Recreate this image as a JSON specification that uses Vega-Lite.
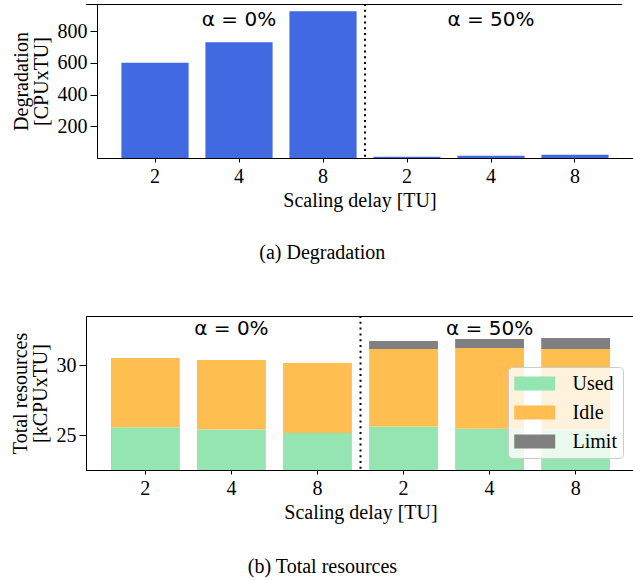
{
  "$schema": "https://vega.github.io/schema/vega-lite/v6.json",
  "padding": {"left": 9, "top": 3, "right": 0, "bottom": 0},
  "spacing": 51,
  "resolve": {"legend": {"color": "independent"}},
  "datasets": {
    "deg": [
      {"pos": "a2", "deg": 600},
      {"pos": "a4", "deg": 730},
      {"pos": "a8", "deg": 925},
      {"pos": "b2", "deg": 8},
      {"pos": "b4", "deg": 14},
      {"pos": "b8", "deg": 20}
    ],
    "res": [
      {"pos": "a2", "kind": "Used", "ord": 1, "value": 25.55},
      {"pos": "a2", "kind": "Idle", "ord": 2, "value": 4.95},
      {"pos": "a4", "kind": "Used", "ord": 1, "value": 25.4},
      {"pos": "a4", "kind": "Idle", "ord": 2, "value": 4.96},
      {"pos": "a8", "kind": "Used", "ord": 1, "value": 25.15},
      {"pos": "a8", "kind": "Idle", "ord": 2, "value": 5.0},
      {"pos": "b2", "kind": "Used", "ord": 1, "value": 25.6},
      {"pos": "b2", "kind": "Idle", "ord": 2, "value": 5.55},
      {"pos": "b2", "kind": "Limit", "ord": 3, "value": 0.57},
      {"pos": "b4", "kind": "Used", "ord": 1, "value": 25.45},
      {"pos": "b4", "kind": "Idle", "ord": 2, "value": 5.77},
      {"pos": "b4", "kind": "Limit", "ord": 3, "value": 0.63},
      {"pos": "b8", "kind": "Used", "ord": 1, "value": 25.4},
      {"pos": "b8", "kind": "Idle", "ord": 2, "value": 5.75},
      {"pos": "b8", "kind": "Limit", "ord": 3, "value": 0.77}
    ],
    "annTop": [
      {"pos": "a4", "deg": 870, "label": "α = 0%"},
      {"pos": "b4", "deg": 870, "label": "α = 50%"}
    ],
    "annBot": [
      {"pos": "a4", "value": 32.6, "label": "α = 0%"},
      {"pos": "b4", "value": 32.6, "label": "α = 50%"}
    ],
    "split": [{"pos": "a8"}],
    "topEdge": [{"deg": 971}]
  },
  "config": {
    "view": {"stroke": "#000", "strokeWidth": 1},
    "font": "Liberation Serif",
    "axis": {
      "domainColor": "#000", "tickColor": "#000", "labelColor": "#000", "titleColor": "#000",
      "labelFont": "Liberation Serif", "titleFont": "Liberation Serif",
      "labelFontSize": 20, "titleFontSize": 20, "titleFontWeight": "normal", "grid": false
    },
    "axisX": {"tickSize": 4, "labelPadding": 4, "titlePadding": 4, "labelAngle": 0},
    "axisY": {"tickSize": 7, "labelPadding": 3, "titlePadding": 6, "titleLineHeight": 20},
    "title": {"font": "Liberation Serif", "fontSize": 20, "fontWeight": "normal", "orient": "bottom", "frame": "bounds", "anchor": "middle", "color": "#000"}
  },
  "vconcat": [
    {
      "width": 547,
      "height": 154,
      "view": {"stroke": null},
      "title": {"text": "(a)  Degradation", "offset": 33},
      "layer": [
        {
          "data": {"name": "deg"},
          "mark": {"type": "bar", "color": "#4169e1"},
          "encoding": {
            "x": {"field": "pos", "type": "nominal", "title": "Scaling delay [TU]",
              "scale": {"domain": ["a2", "a4", "a8", "b2", "b4", "b8"], "paddingInner": 0.2, "paddingOuter": 0.356, "align": 0.592},
              "axis": {"labelExpr": "substring(datum.label, 1)", "domainDash": [0, 11, 3000, 0]}},
            "y": {"field": "deg", "type": "quantitative", "title": ["Degradation", "[CPUxTU]"],
              "scale": {"domain": [0, 971], "nice": false},
              "axis": {"values": [200, 400, 600, 800], "offset": -11}}
          }
        },
        {
          "data": {"name": "topEdge"},
          "mark": {"type": "rule", "strokeDash": [0, 11, 3000, 0], "strokeWidth": 1, "color": "#000", "yOffset": 0.5},
          "encoding": {
            "y": {"field": "deg", "type": "quantitative", "title": ["Degradation", "[CPUxTU]"]}
          }
        },
        {
          "data": {"name": "split"},
          "mark": {"type": "rule", "strokeDash": [2, 3.8], "strokeWidth": 2, "color": "#000"},
          "encoding": {
            "x": {"field": "pos", "type": "nominal", "bandPosition": 1.125, "title": "Scaling delay [TU]"}
          }
        },
        {
          "data": {"name": "annTop"},
          "mark": {"type": "text", "font": "DejaVu Sans", "fontSize": 20, "baseline": "middle", "color": "#000"},
          "encoding": {
            "x": {"field": "pos", "type": "nominal", "title": "Scaling delay [TU]"},
            "y": {"field": "deg", "type": "quantitative", "title": ["Degradation", "[CPUxTU]"]},
            "text": {"field": "label"}
          }
        }
      ]
    },
    {
      "width": 549,
      "height": 154,
      "title": {"text": "(b)  Total resources", "offset": 35},
      "layer": [
        {
          "data": {"name": "res"},
          "mark": {"type": "bar", "clip": true},
          "encoding": {
            "x": {"field": "pos", "type": "nominal", "title": "Scaling delay [TU]",
              "scale": {"domain": ["a2", "a4", "a8", "b2", "b4", "b8"], "paddingInner": 0.2, "paddingOuter": 0.29},
              "axis": {"labelExpr": "substring(datum.label, 1)"}},
            "y": {"field": "value", "type": "quantitative", "stack": "zero", "title": ["Total resources", "[kCPUxTU]"],
              "scale": {"domain": [22.5, 33.5], "nice": false, "zero": false},
              "axis": {"values": [25, 30]}},
            "color": {"field": "kind", "type": "nominal",
              "scale": {"domain": ["Used", "Idle", "Limit"], "range": ["#94e5b1", "#ffbe4f", "#808080"]},
              "legend": {
                "title": null, "orient": "none", "legendX": 422, "legendY": 51,
                "symbolType": "M-1,-0.683L3,-0.683L3,0.683L-1,0.683Z", "symbolSize": 420,
                "symbolStrokeWidth": 0, "symbolOpacity": 1,
                "labelFont": "Liberation Serif", "labelFontSize": 20, "labelColor": "#000",
                "labelOffset": 37.5, "rowPadding": 8, "padding": 6,
                "fillColor": "rgba(255,255,255,0.8)", "strokeColor": "#cccccc", "cornerRadius": 4
              }},
            "order": {"field": "ord", "type": "quantitative"}
          }
        },
        {
          "data": {"name": "split"},
          "mark": {"type": "rule", "strokeDash": [2, 3.8], "strokeWidth": 2, "color": "#000"},
          "encoding": {
            "x": {"field": "pos", "type": "nominal", "bandPosition": 1.125, "title": "Scaling delay [TU]"}
          }
        },
        {
          "data": {"name": "annBot"},
          "mark": {"type": "text", "font": "DejaVu Sans", "fontSize": 20, "baseline": "middle", "color": "#000"},
          "encoding": {
            "x": {"field": "pos", "type": "nominal", "title": "Scaling delay [TU]"},
            "y": {"field": "value", "type": "quantitative", "title": ["Total resources", "[kCPUxTU]"]},
            "text": {"field": "label"}
          }
        }
      ]
    }
  ]
}
